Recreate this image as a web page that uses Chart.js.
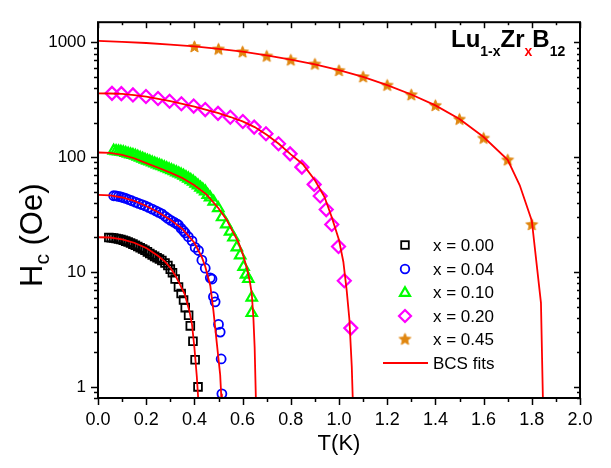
<!DOCTYPE html>
<html>
<head>
<meta charset="utf-8">
<script src="https://cdn.jsdelivr.net/npm/chart.js@4.4.1/dist/chart.umd.min.js"></script>
<style>
  html, body { margin: 0; padding: 0; background: #fff; }
  #wrap { width: 611px; height: 468px; }
</style>
</head>
<body>
<div id="wrap"><canvas id="hcChart" width="611" height="468"></canvas></div>
<script>
// measured points, T in K, Hc in Oe
const t000 = [0.045, 0.055, 0.065, 0.075, 0.085, 0.095, 0.105, 0.115, 0.125, 0.135, 0.145, 0.155, 0.165, 0.175, 0.185, 0.195, 0.205, 0.215, 0.225, 0.235, 0.245, 0.255, 0.265, 0.278, 0.29, 0.3, 0.309, 0.32, 0.334, 0.345, 0.355, 0.362, 0.376, 0.383, 0.394, 0.403, 0.415];
const h000 = [20.0, 19.9, 19.8, 19.6, 19.4, 19.2, 18.9, 18.6, 18.3, 17.9, 17.5, 17.1, 16.7, 16.3, 15.9, 15.5, 15.0, 14.5, 14.1, 13.7, 13.3, 13.0, 12.6, 12.0, 11.4, 10.6, 9.85, 8.7, 7.4, 6.5, 5.7, 4.9, 4.2, 3.4, 2.5, 1.72, 1.0];

const t004 = [0.065, 0.075, 0.085, 0.095, 0.105, 0.115, 0.127, 0.14, 0.155, 0.168, 0.182, 0.196, 0.21, 0.225, 0.24, 0.252, 0.265, 0.278, 0.29, 0.302, 0.315, 0.327, 0.334, 0.345, 0.355, 0.362, 0.375, 0.39, 0.403, 0.417, 0.431, 0.445, 0.466, 0.473, 0.479, 0.486, 0.5, 0.507, 0.511, 0.514];
const h004 = [46.2, 46.0, 45.6, 45.1, 44.5, 43.8, 42.8, 41.8, 40.7, 39.6, 38.7, 37.7, 36.5, 35.3, 34.1, 33.1, 32.1, 30.6, 29.3, 28.2, 27.2, 26.3, 25.7, 24.0, 22.8, 21.9, 20.3, 18.7, 16.4, 15.4, 12.7, 10.8, 8.9, 8.7, 6.1, 5.5, 3.5, 3.0, 1.75, 0.87];

const t010 = [0.065, 0.075, 0.085, 0.095, 0.105, 0.115, 0.125, 0.135, 0.145, 0.155, 0.165, 0.175, 0.185, 0.195, 0.205, 0.215, 0.225, 0.235, 0.245, 0.255, 0.265, 0.275, 0.285, 0.295, 0.305, 0.315, 0.325, 0.335, 0.345, 0.355, 0.365, 0.375, 0.385, 0.395, 0.405, 0.415, 0.425, 0.435, 0.445, 0.455, 0.465, 0.48, 0.499, 0.515, 0.532, 0.548, 0.562, 0.576, 0.59, 0.604, 0.614, 0.624, 0.638, 0.638];
const h010 = [114, 113, 112.5, 111.7, 110.6, 109, 107.6, 106, 104.6, 103, 101, 99.1, 97.2, 95.3, 93.5, 91.8, 90.1, 88.4, 86.7, 85.1, 83.5, 81.9, 80.3, 78.7, 77.1, 75.5, 73.9, 72.3, 70.8, 69, 67.1, 65.2, 63.3, 61.4, 58.9, 56.8, 54.4, 52.4, 50.4, 47, 44.7, 41, 36, 30, 26, 22.5, 20, 16.4, 14, 11.1, 9.5, 8.7, 6.0, 4.4];

const t020 = [0.058, 0.097, 0.145, 0.199, 0.249, 0.297, 0.346, 0.397, 0.445, 0.498, 0.549, 0.601, 0.648, 0.697, 0.749, 0.797, 0.846, 0.897, 0.922, 0.947, 0.970, 0.998, 1.022, 1.049];
const h020 = [360, 358, 349, 338, 325, 307, 292, 279, 260, 241, 223, 205, 183, 160, 131, 107, 82, 58, 46, 35, 26, 16.7, 8.4, 3.25];

const t045 = [0.4, 0.5, 0.6, 0.7, 0.8, 0.9, 1.0, 1.1, 1.2, 1.3, 1.4, 1.5, 1.6, 1.7, 1.8];
const h045 = [922, 877, 830, 762, 705, 649, 571, 503, 425, 351, 283, 215, 147, 95, 26];

// BCS fit curves
const fitT000 = [0, 0.05, 0.1, 0.15, 0.2, 0.25, 0.28, 0.3, 0.32, 0.34, 0.36, 0.38, 0.39, 0.4, 0.41, 0.415, 0.42];
const fitH000 = [20.1, 20.0, 19.3, 18.0, 16.2, 13.8, 12.2, 10.9, 9.4, 7.8, 6.4, 4.5, 3.5, 2.2, 1.23, 0.84, 0.4];
const fitT004 = [0, 0.05, 0.1, 0.15, 0.2, 0.25, 0.3, 0.35, 0.4, 0.43, 0.445, 0.466, 0.479, 0.493, 0.507, 0.511, 0.514];
const fitH004 = [47, 46.5, 44.6, 41.6, 37.6, 33.2, 28.6, 23.8, 18.0, 13.6, 11.2, 7.6, 4.6, 2.4, 1.27, 0.87, 0.5];
const fitT010 = [0, 0.05, 0.1, 0.15, 0.2, 0.25, 0.3, 0.35, 0.4, 0.45, 0.5, 0.535, 0.55, 0.583, 0.6, 0.618, 0.63, 0.638, 0.645, 0.65, 0.655, 0.658];
const fitH010 = [110, 109, 105, 98, 89, 81, 73.5, 66, 57, 47.5, 36, 28.3, 24.5, 18.1, 14.5, 10.8, 8.3, 6.5, 3.9, 2.2, 0.8, 0.4];
const fitT020 = [0, 0.05, 0.1, 0.15, 0.2, 0.25, 0.3, 0.35, 0.4, 0.45, 0.5, 0.55, 0.6, 0.65, 0.7, 0.75, 0.8, 0.85, 0.9, 0.94, 0.97, 1.0, 1.018, 1.032, 1.043, 1.053, 1.057, 1.06];
const fitH020 = [360, 359, 356, 348, 337, 323, 308, 292, 276, 259, 242, 224, 205, 183, 157, 131, 106, 87, 63, 45, 30, 19, 12.3, 6.9, 3.9, 1.5, 0.8, 0.5];
const fitT045 = [0, 0.1, 0.2, 0.3, 0.4, 0.5, 0.6, 0.7, 0.8, 0.9, 1.0, 1.1, 1.2, 1.3, 1.4, 1.5, 1.6, 1.7, 1.75, 1.8, 1.838, 1.848];
const fitH045 = [1030, 1012, 988, 958, 922, 878, 830, 770, 707, 645, 575, 502, 425, 352, 283, 215, 150, 95, 57, 28, 5.4, 0.5];

const legendLabels = ['x = 0.00', 'x = 0.04', 'x = 0.10', 'x = 0.20', 'x = 0.45', 'BCS fits'];
const xTickLabels = ['0.0', '0.2', '0.4', '0.6', '0.8', '1.0', '1.2', '1.4', '1.6', '1.8', '2.0'];
const yTickValues = [1, 10, 100, 1000];

const FONT = '"Liberation Sans", Arial, sans-serif';
const ORANGE = '#e0860f';

function pts(t, h) {
    return t.map((v, i) => ({ x: v, y: h[i] }));
}

function makeStar(r, color) {
    const c = document.createElement('canvas');
    const s = Math.ceil(r * 2 + 2);
    c.width = s;
    c.height = s;
    const g = c.getContext('2d');
    g.translate(s / 2, s / 2 + 0.5);
    g.beginPath();
    for (let i = 0; i < 10; i++) {
        const rr = i % 2 ? r * 0.45 : r;
        const a = -Math.PI / 2 + i * Math.PI / 5;
        g.lineTo(rr * Math.cos(a), rr * Math.sin(a));
    }
    g.closePath();
    g.fillStyle = color;
    g.fill();
    g.strokeStyle = color;
    g.lineWidth = 1;
    g.stroke();
    return c;
}
const starImg = makeStar(6.2, ORANGE);

function fitSet(t, h) {
    return {
        data: pts(t, h),
        showLine: true,
        borderColor: '#ff0000',
        borderWidth: 1.8,
        pointRadius: 0,
        tension: 0
    };
}

function markSet(t, h, style, color, radius, width) {
    return {
        data: pts(t, h),
        showLine: false,
        pointStyle: style,
        pointRadius: radius,
        borderColor: color,
        backgroundColor: 'rgba(0,0,0,0)',
        pointBorderWidth: width
    };
}

// frame, ticks on all four sides, axis titles, chemical formula and legend
const decorPlugin = {
    id: 'decor',
    afterDraw(chart) {
        const { ctx, chartArea: a, scales: { x, y } } = chart;
        ctx.save();
        ctx.strokeStyle = '#000';
        ctx.lineWidth = 1.5;
        function seg(x1, y1, x2, y2) {
            ctx.beginPath();
            ctx.moveTo(x1, y1);
            ctx.lineTo(x2, y2);
            ctx.stroke();
        }
        for (let i = 0; i <= 20; i++) {
            const px = Math.round(x.getPixelForValue(i / 10)) + 0.5;
            const major = i % 2 === 0;
            seg(px, a.bottom, px, a.bottom + (major ? 7 : 4));
            seg(px, a.top, px, a.top + (major ? 6 : 3));
        }
        for (const dec of [0.1, 1, 10, 100, 1000]) {
            for (let m = 1; m <= 9; m++) {
                const v = m * dec;
                if (v < y.min || v > y.max) continue;
                const py = Math.round(y.getPixelForValue(v)) + 0.5;
                const major = m === 1;
                seg(a.left, py, a.left - (major ? 7 : 4), py);
                seg(a.right, py, a.right - (major ? 6 : 3), py);
            }
        }
        ctx.lineWidth = 2;
        ctx.strokeRect(a.left, a.top, a.right - a.left, a.bottom - a.top);

        ctx.fillStyle = '#000';
        // x title
        ctx.font = '22px ' + FONT;
        ctx.textAlign = 'center';
        ctx.textBaseline = 'alphabetic';
        ctx.fillText('T(K)', (a.left + a.right) / 2, 450);

        // y title, rotated
        ctx.save();
        ctx.translate(42, 287);
        ctx.rotate(-Math.PI / 2);
        ctx.textAlign = 'left';
        ctx.font = '31px ' + FONT;
        ctx.fillText('H', 0, 0);
        let w = ctx.measureText('H').width;
        ctx.font = '21px ' + FONT;
        ctx.fillText('c', w, 7);
        w += ctx.measureText('c').width;
        ctx.font = '31px ' + FONT;
        ctx.fillText(' (Oe)', w, 0);
        ctx.restore();

        // formula Lu(1-x)Zr(x)B(12)
        const parts = [
            ['Lu', 24, 0, '#000'], ['1-x', 14, 9, '#000'], ['Zr', 24, 0, '#000'],
            ['x', 14, 9, '#ff0000'], ['B', 24, 0, '#000'], ['12', 14, 9, '#000']
        ];
        let fx = 451;
        ctx.textAlign = 'left';
        for (const [s, size, dy, col] of parts) {
            ctx.font = 'bold ' + size + 'px ' + FONT;
            ctx.fillStyle = col;
            ctx.fillText(s, fx, 47 + dy);
            fx += ctx.measureText(s).width;
        }

        // legend
        const rows = [245, 269, 292, 316, 339, 363];
        const mx = 405;
        ctx.font = '17px ' + FONT;
        ctx.textBaseline = 'middle';
        ctx.fillStyle = '#000';
        legendLabels.forEach((lab, i) => ctx.fillText(lab, 433, rows[i] + 1));

        ctx.lineWidth = 1.8;
        ctx.strokeStyle = '#000';
        ctx.strokeRect(mx - 3.8, rows[0] - 3.8, 7.6, 7.6);
        ctx.strokeStyle = '#0000ff';
        ctx.beginPath();
        ctx.arc(mx, rows[1], 4.3, 0, Math.PI * 2);
        ctx.stroke();
        ctx.lineWidth = 2.2;
        ctx.strokeStyle = '#00ff00';
        ctx.beginPath();
        for (let k = 0; k < 3; k++) {
            const ang = k * 2 * Math.PI / 3;
            ctx.lineTo(mx + Math.sin(ang) * 5.8, rows[2] - Math.cos(ang) * 5.8 + 1);
        }
        ctx.closePath();
        ctx.stroke();
        ctx.strokeStyle = '#ff00ff';
        ctx.beginPath();
        ctx.moveTo(mx, rows[3] - 6);
        ctx.lineTo(mx + 6, rows[3]);
        ctx.lineTo(mx, rows[3] + 6);
        ctx.lineTo(mx - 6, rows[3]);
        ctx.closePath();
        ctx.stroke();
        ctx.drawImage(starImg, mx - starImg.width / 2, rows[4] - starImg.height / 2);
        ctx.strokeStyle = '#ff0000';
        ctx.lineWidth = 1.8;
        seg(383, rows[5], 428, rows[5]);
        ctx.restore();
    }
};

const ctx = document.getElementById('hcChart').getContext('2d');
Chart.defaults.color = '#000';
Chart.defaults.font.family = FONT;

new Chart(ctx, {
    type: 'scatter',
    data: {
        datasets: [
            fitSet(fitT000, fitH000),
            fitSet(fitT004, fitH004),
            fitSet(fitT010, fitH010),
            fitSet(fitT020, fitH020),
            fitSet(fitT045, fitH045),
            markSet(t000, h000, 'rect', '#000000', 5.5, 1.8),
            markSet(t004, h004, 'circle', '#0000ff', 4.5, 1.8),
            markSet(t010, h010, 'triangle', '#00ff00', 6, 2.2),
            markSet(t020, h020, 'rectRot', '#ff00ff', 6.5, 2.2),
            markSet(t045, h045, starImg, ORANGE, 5, 1)
        ]
    },
    options: {
        responsive: false,
        animation: false,
        events: [],
        layout: { padding: { left: 0, right: 31, top: 7, bottom: 0 } },
        plugins: {
            legend: { display: false },
            tooltip: { enabled: false }
        },
        scales: {
            x: {
                type: 'linear',
                min: 0,
                max: 2,
                grid: { display: false, drawTicks: false },
                border: { display: false },
                ticks: {
                    stepSize: 0.2,
                    padding: 11,
                    font: { size: 18 },
                    callback: (v) => xTickLabels[Math.round(v * 5)]
                },
                afterFit: (s) => { s.height = 70; }
            },
            y: {
                type: 'logarithmic',
                min: 0.8,
                max: 1500,
                grid: { display: false, drawTicks: false },
                border: { display: false },
                afterBuildTicks: (s) => { s.ticks = yTickValues.map(v => ({ value: v })); },
                ticks: {
                    padding: 12,
                    font: { size: 17 },
                    callback: (v) => String(v)
                },
                afterFit: (s) => { s.width = 98; }
            }
        }
    },
    plugins: [decorPlugin]
});
</script>
</body>
</html>
